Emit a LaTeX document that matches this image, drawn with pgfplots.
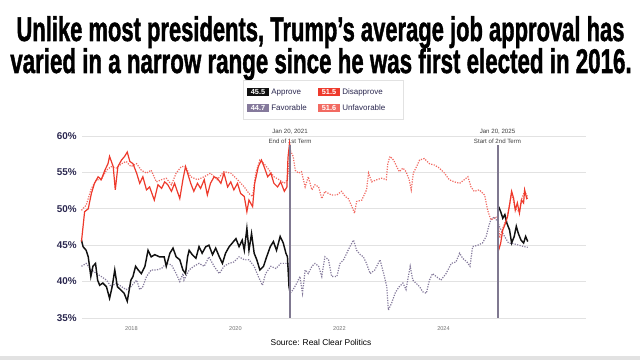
\documentclass[border=0pt]{standalone}
\usepackage{fontspec}
\setmainfont{Liberation Sans}
\newfontfamily\titlefont{Liberation Sans}[BoldFeatures={FakeBold=1.6}]
\usepackage{graphicx}
\usepackage{pgfplots}
\usepackage{pgfplotstable}
\pgfplotsset{compat=1.18}
\definecolor{appr}{HTML}{111111}
\definecolor{disa}{HTML}{EE3A2C}
\definecolor{unfav}{HTML}{F26A62}
\definecolor{fav}{HTML}{857A9C}
\definecolor{navy}{HTML}{2B2850}
\definecolor{vline}{HTML}{7F7890}
\definecolor{gridc}{HTML}{E2E2E2}

\pgfplotstableread{
x y
2017.04 45.7
2017.07 44.8
2017.13 44.3
2017.17 43.4
2017.22 40.7
2017.26 42.1
2017.31 42.5
2017.35 40.2
2017.39 39.5
2017.45 39.8
2017.52 39.3
2017.58 37.7
2017.63 39.3
2017.68 41.6
2017.73 39.3
2017.79 38.9
2017.86 38.4
2017.92 37.3
2017.99 40.2
2018.03 40.7
2018.08 42.1
2018.13 41.6
2018.19 41.1
2018.26 42.1
2018.32 44.3
2018.38 43.4
2018.45 43.7
2018.54 43.4
2018.63 43.4
2018.67 42.1
2018.74 43.9
2018.80 44.6
2018.86 43.4
2018.93 43.0
2018.99 41.6
2019.04 41.1
2019.08 43.4
2019.11 44.3
2019.17 43.7
2019.24 43.2
2019.30 44.8
2019.36 43.9
2019.43 44.8
2019.49 45.0
2019.56 43.7
2019.62 44.6
2019.69 43.4
2019.75 42.5
2019.81 43.9
2019.88 44.8
2019.94 45.3
2020.01 45.9
2020.07 44.8
2020.13 45.7
2020.17 44.3
2020.22 47.3
2020.26 44.3
2020.31 46.6
2020.36 43.9
2020.41 43.0
2020.47 41.6
2020.54 42.1
2020.60 43.4
2020.67 44.8
2020.73 45.5
2020.79 44.3
2020.86 46.2
2020.92 45.3
2020.97 43.9
2021.00 43.4
2021.03 39.3
2021.05 38.5
}\approveA

\pgfplotstableread{
x y
2025.06 50.3
2025.10 49.6
2025.14 48.7
2025.18 49.2
2025.22 48.0
2025.27 47.1
2025.31 45.3
2025.36 46.2
2025.40 47.6
2025.44 46.6
2025.49 45.7
2025.54 45.3
2025.58 46.2
2025.62 45.5
}\approveB

\pgfplotstableread{
x y
2017.04 45.5
2017.10 49.6
2017.17 50.0
2017.23 52.1
2017.29 53.5
2017.36 54.4
2017.42 54.0
2017.49 55.3
2017.55 56.2
2017.58 57.2
2017.65 55.8
2017.69 52.6
2017.74 55.8
2017.81 56.7
2017.87 57.2
2017.92 57.8
2017.97 56.5
2018.03 56.2
2018.10 54.9
2018.16 53.5
2018.22 54.4
2018.29 52.6
2018.35 53.0
2018.44 51.2
2018.51 53.3
2018.58 52.8
2018.64 53.7
2018.70 53.3
2018.77 52.4
2018.83 53.5
2018.93 51.4
2018.99 54.0
2019.04 55.8
2019.08 54.9
2019.14 53.5
2019.20 52.4
2019.27 53.5
2019.33 52.8
2019.40 54.0
2019.46 51.9
2019.52 53.5
2019.59 54.4
2019.65 54.2
2019.72 53.5
2019.78 54.9
2019.85 53.0
2019.91 53.7
2019.97 52.6
2020.04 53.5
2020.10 52.1
2020.17 51.7
2020.22 49.6
2020.26 51.2
2020.33 50.3
2020.37 53.5
2020.44 55.8
2020.50 56.7
2020.55 55.8
2020.62 54.4
2020.68 54.9
2020.74 53.5
2020.81 53.0
2020.87 53.7
2020.94 52.4
2020.99 53.0
2021.01 57.0
2021.04 59.0
2021.05 58.5
}\disapproveA

\pgfplotstableread{
x y
2025.06 44.3
2025.10 45.3
2025.14 47.1
2025.18 47.8
2025.23 48.9
2025.27 50.5
2025.31 52.4
2025.35 51.4
2025.38 49.8
2025.42 50.8
2025.46 49.4
2025.50 51.2
2025.54 50.8
2025.56 52.6
2025.60 51.4
2025.62 51.5
}\disapproveB

\pgfplotstableread{
x y
2017.04 42.1
2017.13 42.5
2017.23 41.6
2017.33 41.1
2017.42 40.7
2017.52 40.2
2017.61 39.3
2017.71 39.8
2017.81 39.3
2017.90 38.9
2017.99 39.3
2018.10 40.2
2018.16 38.9
2018.22 39.3
2018.29 40.7
2018.38 41.6
2018.48 41.6
2018.58 41.8
2018.67 42.5
2018.77 42.3
2018.86 41.1
2018.93 40.0
2018.99 41.1
2019.01 40.2
2019.11 41.6
2019.20 42.1
2019.30 42.5
2019.40 42.1
2019.49 43.4
2019.59 42.1
2019.69 41.1
2019.78 42.1
2019.88 42.5
2019.97 42.7
2020.07 43.4
2020.17 43.0
2020.26 43.0
2020.36 42.1
2020.44 40.7
2020.52 39.5
2020.58 41.1
2020.68 42.1
2020.78 41.8
2020.87 42.5
2020.97 42.5
2021.01 42.5
2021.05 38.4
2021.11 38.9
2021.18 39.8
2021.24 40.7
2021.29 38.4
2021.34 41.6
2021.40 41.1
2021.47 42.1
2021.53 42.5
2021.60 42.1
2021.66 40.7
2021.72 43.4
2021.79 43.0
2021.85 40.7
2021.95 40.7
2022.01 42.5
2022.08 43.0
2022.14 43.9
2022.20 44.8
2022.27 45.7
2022.33 44.3
2022.40 43.7
2022.46 43.4
2022.52 42.5
2022.59 41.1
2022.68 41.6
2022.78 43.0
2022.85 41.1
2022.91 39.3
2022.94 36.1
2023.00 37.0
2023.07 38.4
2023.11 38.9
2023.15 39.3
2023.22 39.8
2023.28 38.9
2023.36 42.1
2023.41 40.2
2023.47 39.8
2023.54 39.3
2023.60 38.6
2023.67 38.4
2023.73 40.2
2023.79 41.1
2023.86 40.7
2023.95 40.2
2024.05 41.1
2024.15 42.5
2024.24 42.7
2024.31 43.9
2024.37 43.2
2024.45 42.7
2024.51 42.1
2024.56 44.8
2024.66 45.0
2024.75 45.3
2024.82 46.2
2024.87 47.6
2024.91 48.5
2024.98 48.9
2025.04 48.2
2025.08 47.5
2025.15 46.5
2025.25 45.3
2025.35 45.2
2025.45 45.0
2025.55 44.8
2025.62 44.7
}\favorable

\pgfplotstableread{
x y
2017.04 49.8
2017.13 50.5
2017.23 52.8
2017.33 54.0
2017.42 54.0
2017.52 55.3
2017.61 55.8
2017.71 55.6
2017.81 56.2
2017.90 56.5
2017.99 55.8
2018.10 56.2
2018.19 55.3
2018.29 54.9
2018.38 55.3
2018.48 53.7
2018.58 54.0
2018.67 54.2
2018.77 53.3
2018.86 54.9
2018.96 55.8
2019.04 55.8
2019.14 54.4
2019.27 54.0
2019.40 54.4
2019.52 54.9
2019.65 54.0
2019.78 55.1
2019.91 54.9
2020.04 54.0
2020.17 53.0
2020.26 52.1
2020.33 51.7
2020.39 54.9
2020.47 56.7
2020.55 56.2
2020.65 55.3
2020.74 54.4
2020.84 54.0
2020.94 53.5
2021.00 54.0
2021.05 58.1
2021.11 57.2
2021.15 55.3
2021.21 54.9
2021.27 55.1
2021.34 53.0
2021.40 54.4
2021.47 52.6
2021.53 53.3
2021.60 53.0
2021.66 51.4
2021.72 52.4
2021.79 52.1
2021.85 51.9
2021.95 51.9
2022.04 52.4
2022.11 51.7
2022.17 51.4
2022.24 50.3
2022.29 49.4
2022.33 51.0
2022.43 51.2
2022.52 52.6
2022.56 54.9
2022.62 53.7
2022.72 54.0
2022.81 54.2
2022.90 54.0
2022.93 56.2
2022.97 57.2
2023.04 56.7
2023.10 55.8
2023.15 55.1
2023.22 55.6
2023.28 55.1
2023.34 54.0
2023.38 52.6
2023.42 54.9
2023.47 55.6
2023.54 56.7
2023.63 56.9
2023.73 56.2
2023.83 56.0
2023.92 55.6
2024.02 54.9
2024.11 54.0
2024.21 53.7
2024.31 53.5
2024.40 54.0
2024.47 54.4
2024.53 53.0
2024.59 52.4
2024.69 52.6
2024.79 51.9
2024.85 49.8
2024.91 48.5
2024.98 48.7
2025.04 48.9
2025.08 46.0
2025.14 47.3
2025.23 49.0
2025.31 52.2
2025.38 50.0
2025.46 49.6
2025.50 51.3
2025.56 52.4
2025.62 51.6
}\unfavorable

\begin{document}
\begin{tikzpicture}[x=0.75pt,y=0.75pt]
\fill[white] (0,0) rectangle (640,360);
% title
\node[anchor=base, inner sep=0pt] at (320.5,319) {\resizebox{456pt}{18.6pt}{\titlefont\bfseries Unlike most presidents, Trump’s average job approval has}};
\node[anchor=base, inner sep=0pt] at (321,287) {\resizebox{466pt}{18.6pt}{\titlefont\bfseries varied in a narrow range since he was first elected in 2016.}};
% legend
\draw[gridc, line width=0.5pt] (243,280) rectangle (403,241);
\fill[appr] (247,271.5) rectangle (269,263.5);
\node[anchor=center, text=white, inner sep=0pt, font=\fontsize{5.5}{6}\selectfont\bfseries] at (258,267.5) {45.5};
\node[anchor=west, text=navy, inner sep=0pt, font=\fontsize{6}{7}\selectfont] at (271,267.5) {Approve};
\fill[disa] (318,271.5) rectangle (340,263.5);
\node[anchor=center, text=white, inner sep=0pt, font=\fontsize{5.5}{6}\selectfont\bfseries] at (329,267.5) {51.5};
\node[anchor=west, text=navy, inner sep=0pt, font=\fontsize{6}{7}\selectfont] at (342,267.5) {Disapprove};
\fill[fav] (247,256) rectangle (269,248);
\node[anchor=center, text=white, inner sep=0pt, font=\fontsize{5.5}{6}\selectfont\bfseries] at (258,252) {44.7};
\node[anchor=west, text=navy, inner sep=0pt, font=\fontsize{6}{7}\selectfont] at (271,252) {Favorable};
\fill[unfav] (318,256) rectangle (340,248);
\node[anchor=center, text=white, inner sep=0pt, font=\fontsize{5.5}{6}\selectfont\bfseries] at (329,252) {51.6};
\node[anchor=west, text=navy, inner sep=0pt, font=\fontsize{6}{7}\selectfont] at (342,252) {Unfavorable};
% annotations
\node[anchor=center, text=black!75, inner sep=0pt, font=\fontsize{4.6}{5}\selectfont] at (290,228) {Jan 20, 2021};
\node[anchor=center, text=black!75, inner sep=0pt, font=\fontsize{4.6}{5}\selectfont] at (290,219) {End of 1st Term};
\node[anchor=center, text=black!75, inner sep=0pt, font=\fontsize{4.6}{5}\selectfont] at (497.5,228) {Jan 20, 2025};
\node[anchor=center, text=black!75, inner sep=0pt, font=\fontsize{4.6}{5}\selectfont] at (497.5,219) {Start of 2nd Term};
% source
\node[anchor=center, inner sep=0pt, font=\fontsize{6.3}{7}\selectfont] at (321,17) {Source: Real Clear Politics};
\fill[gridc] (0,0) rectangle (640,4);
\begin{axis}[
  at={(61.5pt,31.5pt)}, anchor=south west,
  scale only axis, width=378pt, height=136.5pt,
  xmin=2017.05, xmax=2026.74, ymin=35, ymax=60,
  axis line style={draw=none},
  major tick length=0pt,
  ytick={35,40,45,50,55,60},
  yticklabels={35\%,40\%,45\%,50\%,55\%,60\%},
  yticklabel style={font=\fontsize{7.4}{8}\selectfont\bfseries, text=navy, xshift=-0.5pt},
  xtick={2018,2020,2022,2024},
  xticklabels={2018,2020,2022,2024},
  xticklabel style={font=\fontsize{4.2}{5}\selectfont, text=black!55, yshift=-3pt},
  ymajorgrids, grid style={gridc, line width=0.6pt},
  clip=false,
]
\addplot[fav, densely dotted, line width=0.9pt] table {\favorable};
\addplot[unfav, densely dotted, line width=0.9pt] table {\unfavorable};
\addplot[appr, line width=1.1pt] table {\approveA};
\addplot[appr, line width=1.1pt] table {\approveB};
\addplot[disa, line width=0.9pt] table {\disapproveA};
\addplot[disa, line width=0.9pt] table {\disapproveB};
\addplot[vline, line width=1.1pt] coordinates {(2021.05,35) (2021.05,58.8)};
\addplot[vline, line width=1.1pt] coordinates {(2025.05,35) (2025.05,58.8)};
\end{axis}
\end{tikzpicture}
\end{document}
